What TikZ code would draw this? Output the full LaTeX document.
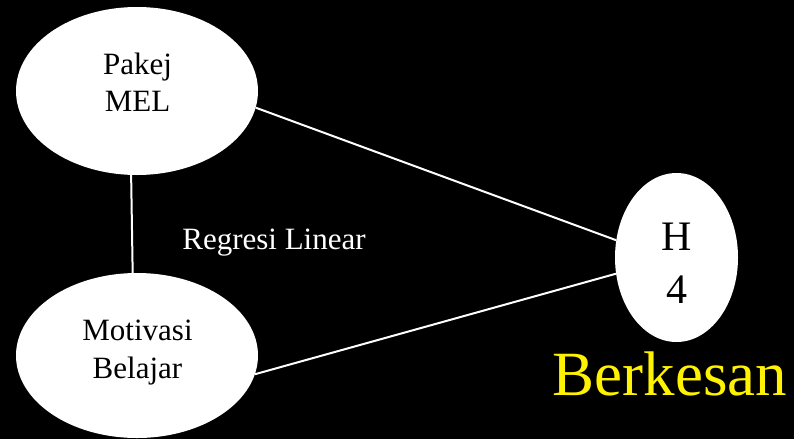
\documentclass[tikz,border=0pt]{standalone}
\usepackage{fontspec}
\setmainfont{Liberation Serif}
\usetikzlibrary{shapes.geometric}
\begin{document}
\begin{tikzpicture}[x=1pt,y=-1pt,
  ell/.style={ellipse, fill=white, draw=none, inner sep=0pt},
  lbl/.style={anchor=base, inner sep=0pt, text=black, font=\fontsize{31}{37}\selectfont},
  hlbl/.style={anchor=base, inner sep=0pt, text=black, font=\fontsize{42}{50}\selectfont},
  conn/.style={draw=white, line width=2pt}]
\fill[black] (0,0) rectangle (794,439);
\useasboundingbox (0,0) rectangle (794,439);
% ellipses
\node[ell, minimum width=242pt, minimum height=168pt] (pakej) at (137,91) {};
\node[ell, minimum width=242pt, minimum height=165pt] (motiv) at (137,355.5) {};
\node[ell, minimum width=123pt, minimum height=169pt] (h4) at (676.5,257.5) {};
% connectors
\draw[conn] (pakej.266.6) -- (motiv.93.5);
\draw[conn] (pakej.-8) -- (h4.164.5);
\draw[conn] (motiv.-9.2) -- (h4.195.5);
% texts
\node[lbl] (p1) at (137.5,74) {Pakej};
\node[lbl] (p2) at (137.5,111) {MEL};
\node[lbl] (m1) at (137.5,340) {Motivasi};
\node[lbl] (m2) at (137.5,378) {Belajar};
\node[hlbl] (h1) at (677,250) {H};
\node[hlbl] (h2) at (677,303) {4};
\node[lbl, text=white] (reg) at (274,249) {Regresi Linear};
\node[anchor=base, inner sep=0pt, text=yellow, font=\fontsize{63}{72}\selectfont] (berk) at (670,395) {Berkesan};
\end{tikzpicture}
\end{document}
